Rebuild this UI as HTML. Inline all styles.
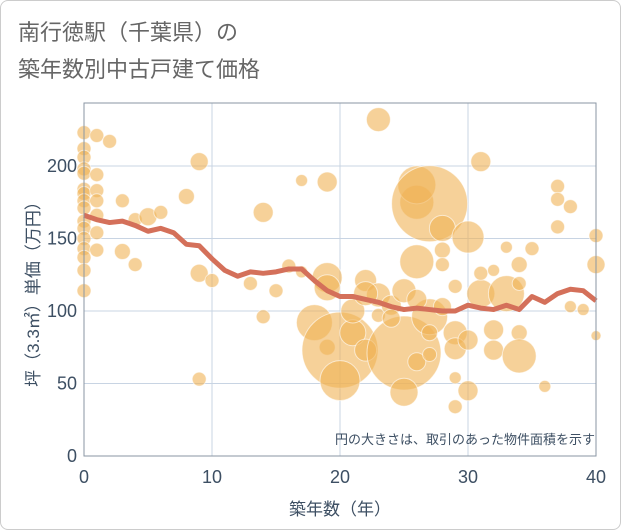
<!DOCTYPE html>
<html><head><meta charset="utf-8"><style>
body{margin:0;background:#fff;font-family:"Liberation Sans","Noto Sans CJK JP",sans-serif}
#wrap{position:relative;width:619px;height:528px;border:1px solid #ccc;border-radius:8px;overflow:hidden}
</style></head><body>
<div id="wrap">
<svg id="chart" width="621" height="530" style="position:absolute;left:-1px;top:-1px">
<text x="18" y="40" font-size="22" fill="#666">南行徳駅（千葉県）の</text>
<text x="18" y="77" font-size="22" fill="#666">築年数別中古戸建て価格</text>
</svg>
</div>
<script>
const xTicks=[0,10,20,30,40];
const yTicks=[0,50,100,150,200];
const lineYears=[0,1,2,3,4,5,6,7,8,9,10,11,12,13,14,15,16,17,18,19,20,21,22,23,24,25,26,27,28,29,30,31,32,33,34,35,36,37,38,39,40];
const lineValues=[166,163,161,162,159,155,157,154,146,145,136,128,124,127,126,127,129,129,121,114,110,110,108,106,103,101,102,101,100,100,104,102,101,104,101,110,106,112,115,114,107];
const bubbleYears=[0,0,0,0,0,0,0,0,0,0,0,0,0,0,0,0,1,1,1,1,1,1,1,2,3,3,4,4,5,6,8,9,9,9,10,13,14,14,15,16,17,17,18,19,19,19,19,20,20,21,22,22,23,23,23,24,25,25,25,26,26,26,26,27,27,27,27,28,28,28,29,29,29,29,29,30,30,31,31,31,32,32,32,33,33,34,34,34,34,35,36,37,37,37,38,38,39,40,40,40,21,24,26,28,30,22];
const bubbleValues=[223,212,206,198,195,184,181,176,171,162,157,150,143,137,128,114,221,194,183,176,166,154,142,217,176,141,163,132,165,168,179,203,126,53,121,119,168,96,114,131,190,127,92,189,123,116,75,73,52,85,121,73,232,111,97,104,71,114,44,175,187,134,65,96,85,70,174,157,142,132,117,85,74,54,34,151,45,203,112,126,128,87,73,112,144,132,119,85,69,143,48,186,177,158,172,103,101,152,132,83,100,95,108,103,80,112];
const bubbleSizes=[7,7,7,7,7,7,7,7,7,7,7,7,7,7,7,7,7,7,7,7,7,7,7,7,7,8,7,7,9,7,8,9,9,7,7,7,10,7,7,7,6,6,18,10,15,13,8,38,20,13,11,11,12,12,7,10,37,12,14,17,19,17,9,18,8,7,38,13,8,7,7,12,11,6,7,16,10,10,14,7,6,10,10,18,6,8,7,8,17,7,6,7,7,7,7,6,6,7,9,5,12,9,10,9,10,12];
const NS="http://www.w3.org/2000/svg";
const svg=document.getElementById('chart');
const L=84,R=596,T=103,B=456;
const xs=v=>L+(v-0)/40*(R-L);
const ys=v=>B-v/200*(B-166);
function mk(t,a){const e=document.createElementNS(NS,t);for(const k in a)e.setAttribute(k,a[k]);svg.appendChild(e);return e;}
xTicks.forEach(t=>{
 const g=mk('line',{x1:xs(t),x2:xs(t),y1:T,y2:B,stroke:'#c8d4e3','stroke-width':1});
 
 
 const l=mk('text',{x:xs(t),y:483,'text-anchor':'middle','font-size':18,fill:'#3d4f63'});
 l.textContent=t;
 
 
});
yTicks.forEach(t=>{
 const g=mk('line',{x1:L,x2:R,y1:ys(t),y2:ys(t),stroke:'#c8d4e3','stroke-width':1});
 
 
 const l=mk('text',{x:77,y:ys(t)+6,'text-anchor':'end','font-size':18,fill:'#3d4f63'});
 l.textContent=t;
 
 
});
bubbleYears.forEach((yr,i)=>{
 const c=mk('circle',{cx:xs(yr),cy:ys(bubbleValues[i]),r:bubbleSizes[i],fill:'rgb(240,178,85)','fill-opacity':0.6,stroke:'#fff','stroke-opacity':0.6,'stroke-width':1});
 
 
});
const p=mk('polyline',{points:lineYears.map((y,i)=>xs(y)+','+ys(lineValues[i])).join(' '),fill:'none',stroke:'#d4705a','stroke-width':5,'stroke-linejoin':'round'});


const fr=mk('rect',{x:L,y:T,width:R-L,height:B-T,fill:'none',stroke:'#8a96a3','stroke-width':1});


const note=mk('text',{x:595,y:444,'text-anchor':'end','font-size':13,fill:'#3d4f63'});
note.textContent='円の大きさは、取引のあった物件面積を示す';


const xt=mk('text',{x:340,y:515,'text-anchor':'middle','font-size':17,fill:'#3d4f63'});
xt.textContent='築年数（年）';


const yt=mk('text',{x:0,y:0,'text-anchor':'middle','font-size':17,fill:'#3d4f63',transform:'translate(39,290) rotate(-90)'});
yt.textContent='坪（3.3㎡）単価（万円）';


</script>
</body></html>
